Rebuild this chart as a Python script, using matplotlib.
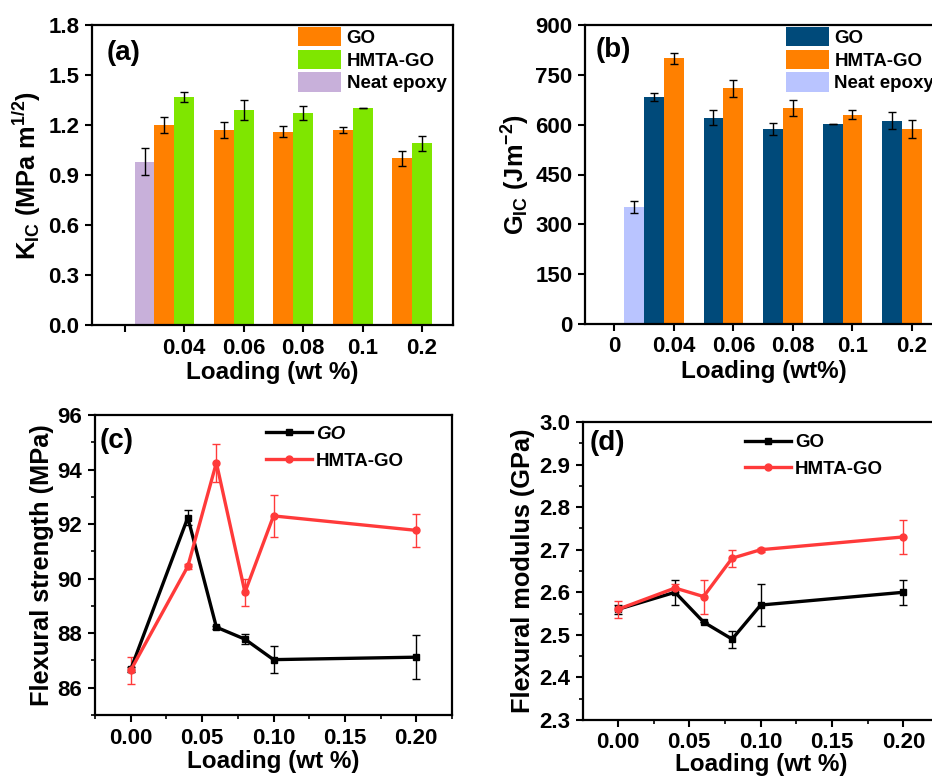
import matplotlib
matplotlib.use("Agg")
import matplotlib.pyplot as plt
from matplotlib.ticker import MultipleLocator
import numpy as np

plt.rcParams['font.family'] = ['Liberation Sans', 'DejaVu Sans']
plt.rcParams['font.weight'] = 'bold'
plt.rcParams['mathtext.fontset'] = 'custom'
plt.rcParams['mathtext.rm'] = 'Liberation Sans:bold'
plt.rcParams['mathtext.bf'] = 'Liberation Sans:bold'
plt.rcParams['mathtext.it'] = 'Liberation Sans:bold:italic'
plt.rcParams['mathtext.default'] = 'bf'

# ---------------- data ----------------
bar_cats = ["", "0.04", "0.06", "0.08", "0.1", "0.2"]
bar_cats_b = ["0", "0.04", "0.06", "0.08", "0.1", "0.2"]

# (a) K_IC
kic_neat = [0.98]
kic_neat_err = [0.08]
kic_go = [1.20, 1.17, 1.16, 1.17, 1.00]
kic_go_err = [0.05, 0.05, 0.033, 0.017, 0.043]
kic_hmta = [1.37, 1.29, 1.27, 1.30, 1.09]
kic_hmta_err = [0.03, 0.058, 0.043, 0.0, 0.045]

# (b) G_IC
gic_neat = [351]
gic_neat_err = [18]
gic_go = [683, 621, 587, 601, 612]
gic_go_err = [12, 22, 18, 0, 25]
gic_hmta = [800, 709, 649, 630, 587]
gic_hmta_err = [16, 25, 24, 13, 26]

# (c) flexural strength
loading = [0.0, 0.04, 0.06, 0.08, 0.10, 0.20]
fs_go = [86.67, 92.24, 88.22, 87.78, 87.03, 87.12]
fs_go_err = [0.1, 0.28, 0.05, 0.18, 0.5, 0.8]
fs_hmta = [86.64, 90.45, 94.25, 89.50, 92.30, 91.77]
fs_hmta_err = [0.5, 0.08, 0.7, 0.5, 0.78, 0.6]

# (d) flexural modulus
fm_go = [2.56, 2.60, 2.53, 2.49, 2.57, 2.60]
fm_go_err = [0.01, 0.03, 0.0, 0.02, 0.05, 0.03]
fm_hmta = [2.56, 2.61, 2.59, 2.68, 2.70, 2.73]
fm_hmta_err = [0.02, 0.01, 0.04, 0.02, 0.005, 0.04]

# ---------------- figure ----------------
fig = plt.figure(figsize=(9.32, 7.78), dpi=100)
W, H = 932.0, 778.0

def ax_px(l, r, t, b):
    return fig.add_axes([l / W, (H - b) / H, (r - l) / W, (b - t) / H])

TICK_FS = 16
XLAB_FS = 17.5
YLAB_FS = 18.3
LEG_FS = 13.5
PANEL_FS = 20

def style(ax):
    for s in ax.spines.values():
        s.set_linewidth(1.6)
    ax.tick_params(which='major', direction='out', length=5, width=1.5,
                   labelsize=TICK_FS, pad=4)
    ax.tick_params(which='minor', direction='out', length=3, width=1.2)
    ax.tick_params(top=False, right=False)
    for lab in ax.get_xticklabels() + ax.get_yticklabels():
        lab.set_fontweight('bold')

bw = 1.0 / 3

def bars(ax, neat, neat_err, go, go_err, hm, hm_err, cols, labels):
    x = np.arange(1, len(go) + 1)
    ax.bar(x - bw, go, bw, color=cols[0], label=labels[0], zorder=2)
    ax.bar(x, hm, bw, color=cols[1], label=labels[1], zorder=2)
    ax.bar([0 + bw], neat, bw, color=cols[2], label=labels[2], zorder=2)
    ekw = dict(fmt='none', ecolor='black', elinewidth=1.0, capsize=3, capthick=1.0, zorder=3)
    ax.errorbar(x - bw, go, yerr=go_err, **ekw)
    ax.errorbar(x, hm, yerr=hm_err, **ekw)
    ax.errorbar([0 + bw], neat, yerr=neat_err, **ekw)

# (a)
axa = ax_px(92, 453, 25, 325)
bars(axa, kic_neat, kic_neat_err, kic_go, kic_go_err, kic_hmta, kic_hmta_err,
     ['#FF8000', '#7FE600', '#C8B0DA'], ['GO', 'HMTA-GO', 'Neat epoxy'])
axa.set_xlim(-0.55, 5.52)
axa.set_ylim(0, 1.8)
axa.set_yticks(np.arange(0, 1.81, 0.3))
axa.set_yticklabels([f"{v:.1f}" for v in np.arange(0, 1.81, 0.3)])
axa.set_xticks(range(len(bar_cats)))
axa.set_xticklabels(bar_cats)
axa.set_xlabel("Loading (wt %)", fontsize=XLAB_FS, fontweight='bold', labelpad=2)
axa.set_ylabel(r"K$_{IC}$ (MPa m$^{1/2}$)", fontsize=YLAB_FS, fontweight='bold', labelpad=4)
style(axa)
axa.text(0.04, 0.905, "(a)", transform=axa.transAxes, fontsize=PANEL_FS, fontweight='bold', va='center')
axa.legend(loc='upper left', bbox_to_anchor=(0.565, 1.0), frameon=False,
           handlelength=2.3, handleheight=1.2, labelspacing=0.15, handletextpad=0.3,
           borderpad=0.1, borderaxespad=0, prop={'weight': 'bold', 'size': LEG_FS})

# (b)
axb = ax_px(585, 943, 25, 324)
bars(axb, gic_neat, gic_neat_err, gic_go, gic_go_err, gic_hmta, gic_hmta_err,
     ['#004A7A', '#FF8000', '#B9C4FF'], ['GO', 'HMTA-GO', 'Neat epoxy'])
axb.set_xlim(-0.49, 5.52)
axb.set_ylim(0, 900)
axb.set_yticks(np.arange(0, 901, 150))
axb.set_xticks(range(len(bar_cats_b)))
axb.set_xticklabels(bar_cats_b)
axb.set_xlabel("Loading (wt%)", fontsize=XLAB_FS, fontweight='bold', labelpad=2)
axb.set_ylabel(r"G$_{IC}$ (Jm$^{-2}$)", fontsize=YLAB_FS, fontweight='bold', labelpad=2)
style(axb)
axb.text(0.03, 0.915, "(b)", transform=axb.transAxes, fontsize=PANEL_FS, fontweight='bold', va='center')
axb.legend(loc='upper left', bbox_to_anchor=(0.555, 1.0), frameon=False,
           handlelength=2.3, handleheight=1.2, labelspacing=0.15, handletextpad=0.3,
           borderpad=0.1, borderaxespad=0, prop={'weight': 'bold', 'size': LEG_FS})

RED = '#FF3A3A'

def lines(ax, go, go_err, hm, hm_err, go_label):
    ax.errorbar(loading, go, yerr=go_err, fmt='none', ecolor='black', elinewidth=1.0,
                capsize=3, capthick=1.0, zorder=3)
    ax.errorbar(loading, hm, yerr=hm_err, fmt='none', ecolor=RED, elinewidth=1.0,
                capsize=3, capthick=1.0, zorder=3)
    ax.plot(loading, go, '-s', color='black', lw=2.4, ms=5, label=go_label, zorder=4)
    ax.plot(loading, hm, '-o', color=RED, lw=2.4, ms=5, label='HMTA-GO', zorder=4)

# (c)
axc = ax_px(95, 452, 415, 715)
lines(axc, fs_go, fs_go_err, fs_hmta, fs_hmta_err, 'GO')
axc.set_xlim(-0.025, 0.225)
axc.set_ylim(85, 96)
axc.set_xticks([0, 0.05, 0.10, 0.15, 0.20])
axc.set_xticklabels(["0.00", "0.05", "0.10", "0.15", "0.20"])
axc.xaxis.set_minor_locator(MultipleLocator(0.025))
axc.set_yticks([86, 88, 90, 92, 94, 96])
axc.yaxis.set_minor_locator(MultipleLocator(1))
axc.set_xlabel("Loading (wt %)", fontsize=XLAB_FS, fontweight='bold', labelpad=1)
axc.set_ylabel("Flexural strength (MPa)", fontsize=YLAB_FS, fontweight='bold', labelpad=3)
style(axc)
axc.text(0.014, 0.915, "(c)", transform=axc.transAxes, fontsize=PANEL_FS, fontweight='bold', va='center')
legc = axc.legend(loc='upper left', bbox_to_anchor=(0.475, 0.97), frameon=False,
                  handlelength=2.45, handletextpad=0.2, labelspacing=0.5,
                  borderpad=0.1, borderaxespad=0, prop={'weight': 'bold', 'size': LEG_FS})
legc.get_texts()[0].set_fontstyle('italic')

# (d)
axd = ax_px(583, 939, 422, 720)
lines(axd, fm_go, fm_go_err, fm_hmta, fm_hmta_err, 'GO')
axd.set_xlim(-0.0245, 0.225)
axd.set_ylim(2.3, 3.0)
axd.set_xticks([0, 0.05, 0.10, 0.15, 0.20])
axd.set_xticklabels(["0.00", "0.05", "0.10", "0.15", "0.20"])
axd.xaxis.set_minor_locator(MultipleLocator(0.025))
axd.set_yticks(np.round(np.arange(2.3, 3.01, 0.1), 1))
axd.set_yticklabels([f"{v:.1f}" for v in np.arange(2.3, 3.01, 0.1)])
axd.yaxis.set_minor_locator(MultipleLocator(0.05))
axd.set_xlabel("Loading (wt %)", fontsize=XLAB_FS, fontweight='bold', labelpad=0)
axd.set_ylabel("Flexural modulus (GPa)", fontsize=YLAB_FS, fontweight='bold', labelpad=3)
style(axd)
axd.text(0.02, 0.93, "(d)", transform=axd.transAxes, fontsize=PANEL_FS, fontweight='bold', va='center')
axd.legend(loc='upper left', bbox_to_anchor=(0.45, 0.965), frameon=False,
           handlelength=2.45, handletextpad=0.2, labelspacing=0.5,
           borderpad=0.1, borderaxespad=0, prop={'weight': 'bold', 'size': LEG_FS})

fig.savefig("out.png", dpi=100)
